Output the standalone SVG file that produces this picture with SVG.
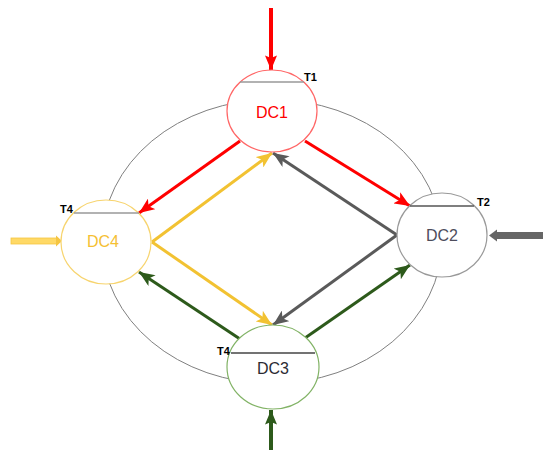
<svg xmlns="http://www.w3.org/2000/svg" width="543" height="450" viewBox="0 0 543 450">
<style>
.node ellipse{fill:#ffffff;stroke-width:1.2}
.lbl{font-family:"Liberation Sans",Arial,sans-serif;font-size:16px;text-anchor:middle}
.t{font-family:"Liberation Sans",Arial,sans-serif;font-size:11px;font-weight:bold;fill:#000}
.chord{stroke-width:1.3;fill:none}
.edge{fill:none;stroke-width:3}
</style>
<defs>
<marker id="aR" viewBox="0 0 12 10" refX="12" refY="5" markerWidth="16" markerHeight="13" markerUnits="userSpaceOnUse" orient="auto"><path d="M0,0 L12,5 L0,10 L3,5 z" fill="#ff0000"/></marker>
<marker id="aY" viewBox="0 0 12 10" refX="12" refY="5" markerWidth="16" markerHeight="13" markerUnits="userSpaceOnUse" orient="auto"><path d="M0,0 L12,5 L0,10 L3,5 z" fill="#f2c232"/></marker>
<marker id="aG" viewBox="0 0 12 10" refX="12" refY="5" markerWidth="16" markerHeight="13" markerUnits="userSpaceOnUse" orient="auto"><path d="M0,0 L12,5 L0,10 L3,5 z" fill="#5a5a5a"/></marker>
<marker id="aN" viewBox="0 0 12 10" refX="12" refY="5" markerWidth="16" markerHeight="13" markerUnits="userSpaceOnUse" orient="auto"><path d="M0,0 L12,5 L0,10 L3,5 z" fill="#2d5a1b"/></marker>
<marker id="aRb" viewBox="0 0 12 10" refX="12" refY="5" markerWidth="16" markerHeight="12" markerUnits="userSpaceOnUse" orient="auto"><path d="M0,0 L12,5 L0,10 L2,5 z" fill="#ff0000"/></marker>
<marker id="aNb" viewBox="0 0 12 10" refX="12" refY="5" markerWidth="15" markerHeight="12" markerUnits="userSpaceOnUse" orient="auto"><path d="M0,0 L12,5 L0,10 L2,5 z" fill="#2d5a1b"/></marker>
</defs>
<g id="ring">
<ellipse cx="272" cy="241.5" rx="170" ry="142" fill="none" stroke="#808080" stroke-width="1"/>
</g>
<g id="connectors">
<line class="edge" x1="240" y1="141" x2="139" y2="213" stroke="#ff0000" marker-end="url(#aR)"/>
<line class="edge" x1="305" y1="141" x2="410" y2="206" stroke="#ff0000" marker-end="url(#aR)"/>
<line class="edge" x1="152" y1="242" x2="272" y2="153" stroke="#f2c232" marker-end="url(#aY)"/>
<line class="edge" x1="152" y1="242" x2="272" y2="325" stroke="#f2c232" marker-end="url(#aY)"/>
<line class="edge" x1="397" y1="235" x2="273" y2="153" stroke="#5a5a5a" marker-end="url(#aG)"/>
<line class="edge" x1="397" y1="235" x2="273" y2="325" stroke="#5a5a5a" marker-end="url(#aG)"/>
<line class="edge" x1="240" y1="339" x2="139" y2="272" stroke="#2d5a1b" marker-end="url(#aN)"/>
<line class="edge" x1="305" y1="338" x2="410" y2="265" stroke="#2d5a1b" marker-end="url(#aN)"/>
<line x1="271" y1="8" x2="271" y2="70" stroke="#ff0000" stroke-width="4" marker-end="url(#aRb)"/>
<line x1="271" y1="450" x2="271" y2="410" stroke="#2d5a1b" stroke-width="4" marker-end="url(#aNb)"/>
<g id="in-left">
<rect x="11" y="238" width="46" height="6" fill="#ffd966" stroke="#f5c542" stroke-width="0.8"/>
<path d="M56,235.5 L62,241 L56,246.5 z" fill="#f5c542"/>
</g>
<g id="in-right">
<rect x="496" y="232" width="47" height="7" fill="#666666"/>
<path d="M497,229.5 L489,235.5 L497,241.5 z" fill="#666666"/>
</g>
</g>
<g id="DC1" class="node">
<ellipse cx="272" cy="111" rx="45" ry="41" stroke="#ff6666"/>
<line class="chord" x1="240" y1="82" x2="304" y2="82" stroke="#999999"/>
<text class="lbl" x="272" y="118" fill="#ff0000">DC1</text>
<text class="t" x="304" y="81">T1</text>
</g>
<g id="DC4" class="node">
<ellipse cx="106" cy="242" rx="45" ry="42" stroke="#f7d46e"/>
<line class="chord" x1="74" y1="213" x2="139" y2="213" stroke="#999999"/>
<text class="lbl" x="103" y="247" fill="#f5c033">DC4</text>
<text class="t" x="60" y="213">T4</text>
</g>
<g id="DC2" class="node">
<ellipse cx="442" cy="235" rx="45" ry="42" stroke="#999999"/>
<line class="chord" x1="410" y1="206" x2="474" y2="206" stroke="#555555"/>
<text class="lbl" x="442" y="241" fill="#4d4d5c">DC2</text>
<text class="t" x="477" y="206">T2</text>
</g>
<g id="DC3" class="node">
<ellipse cx="273" cy="367" rx="46" ry="42" stroke="#82b366"/>
<line class="chord" x1="231" y1="353" x2="315" y2="353" stroke="#444444"/>
<text class="lbl" x="273" y="374" fill="#2b2b33">DC3</text>
<text class="t" x="217" y="355">T4</text>
</g>
</svg>
